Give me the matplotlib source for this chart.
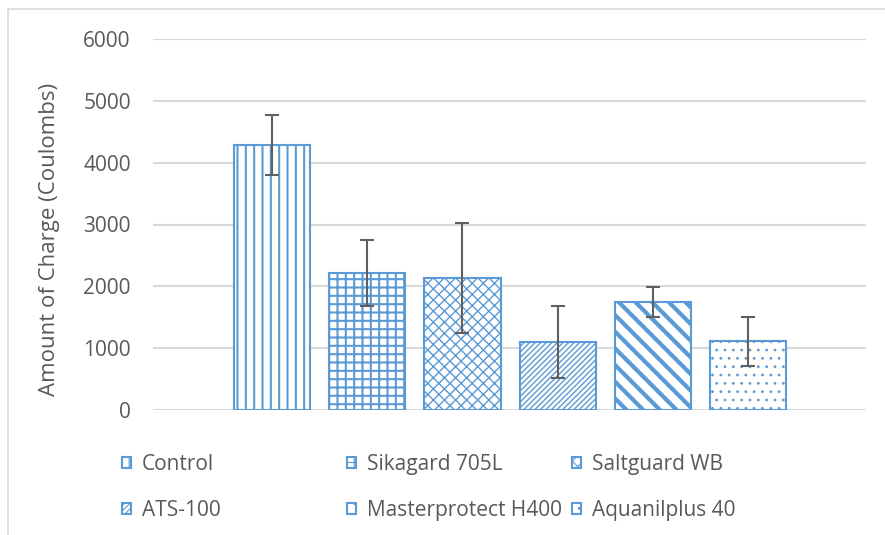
import matplotlib.pyplot as plt
import matplotlib.patches as patches

plt.rcParams['font.family'] = ['Open Sans', 'DejaVu Sans']

categories = ["Control", "Sikagard 705L", "Saltguard WB",
              "ATS-100", "Masterprotect H400", "Aquanilplus 40"]
charge = [4290, 2216, 2135, 1105, 1752, 1108]
charge_err = [485, 529, 890, 580, 243, 392]
hatches = ['||', '++', 'xxx', '//////', '\\\\', '..']
hatch_lw = [1.5, 1.5, 1.0, 1.0, 3.0, 0.8]

c_blue = '#5B9BD5'
c_text = '#595959'
c_grid = '#D9D9D9'

fig = plt.figure(figsize=(8.85, 5.35), dpi=100)
ax = fig.add_axes([153 / 885, 1 - 410 / 535, (866 - 153) / 885, (410 - 39) / 535])

# outer chart frame (cut off on right / bottom like the original)
fig.patches.append(patches.Rectangle((8 / 885, -0.05), 1.2, 1 - 9 / 535 + 0.05,
                                     transform=fig.transFigure, fill=False,
                                     edgecolor=c_grid, linewidth=1.2))

bars = []
for i, (name, val, err) in enumerate(zip(categories, charge, charge_err)):
    plt.rcParams['hatch.linewidth'] = hatch_lw[i]
    b = ax.bar(i, val, width=0.8, color='white', edgecolor=c_blue,
               linewidth=1.5, hatch=hatches[i], label=name, zorder=2)
    ax.errorbar(i, val, yerr=err, fmt='none', ecolor='#606060',
                elinewidth=1.5, capsize=5, capthick=1.5, zorder=3)
    bars.append(b)

ax.set_xlim(-1.253, 6.242)
ax.set_ylim(0, 6000)
ax.set_yticks(range(0, 6001, 1000))
ax.set_xticks([])
ax.yaxis.grid(True, color=c_grid, linewidth=1.5, zorder=0)
ax.set_axisbelow(True)
for s in ax.spines.values():
    s.set_visible(False)
ax.tick_params(axis='y', length=0, pad=16, labelsize=15, labelcolor=c_text)
ax.set_ylabel("Amount of Charge (Coulombs)", fontsize=16, color=c_text)
ax.yaxis.set_label_coords(-0.130, 0.46)

# legend in three columns placed like the Excel one
col_x = [122, 347, 572]
for c in range(3):
    hs = [bars[c][0], bars[c + 3][0]]
    ls = [categories[c], categories[c + 3]]
    leg = fig.legend(hs, ls, loc='upper left',
                     bbox_to_anchor=(col_x[c] / 885, 1 - 454 / 535),
                     frameon=False, fontsize=15, labelcolor=c_text,
                     handlelength=0.45, handleheight=0.45, handletextpad=0.5,
                     labelspacing=1.2, borderpad=0, borderaxespad=0)

fig.savefig("out.png", dpi=100)
